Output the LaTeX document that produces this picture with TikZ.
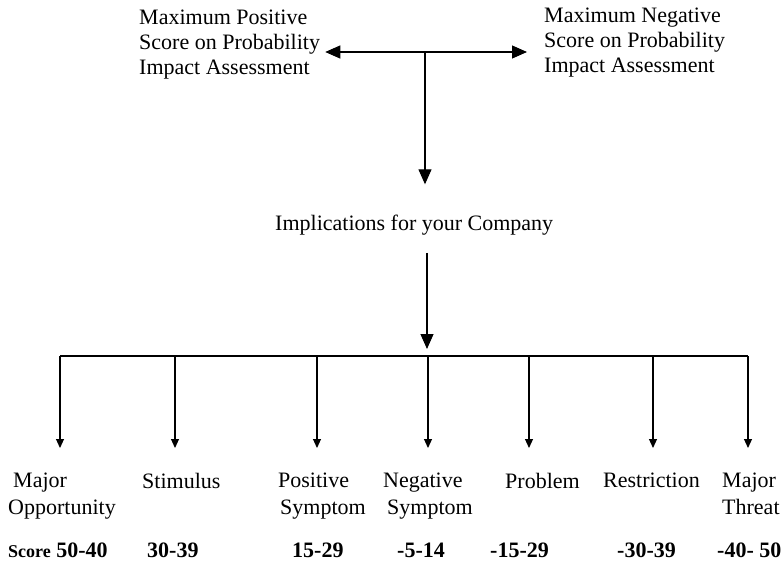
\documentclass[tikz,border=0pt]{standalone}
\usepackage{fontspec}
\setmainfont{Liberation Serif}
\usetikzlibrary{arrows.meta}
\begin{document}
\begin{tikzpicture}[x=1pt,y=-1pt,
  txt/.style={inner sep=0pt, font=\fontsize{22}{25}\selectfont, align=left},
  lbl/.style={inner sep=0pt, font=\fontsize{22}{26.5}\selectfont, align=left, anchor=north west},
  score/.style={inner sep=0pt, font=\bfseries\fontsize{22}{25}\selectfont, anchor=base west},
  conn/.style={line width=1.1pt, draw=black},
  bigtip/.style={-{Triangle[length=15pt,width=13pt]}},
  bigtips/.style={{Triangle[length=15pt,width=13pt]}-{Triangle[length=15pt,width=13pt]}},
  smalltip/.style={-{Triangle[length=9pt,width=8pt]}}]
\useasboundingbox (0,0) rectangle (784,562);

% top: the two extremes of the assessment
\node[txt, anchor=north west] (pos) at (139,10) {Maximum Positive\\Score on Probability\\Impact Assessment};
\node[txt, anchor=north west] (neg) at (544,8) {Maximum Negative\\Score on Probability\\Impact Assessment};
\node[txt, anchor=base west] (imp) at (275,230) {Implications for your Company};

\coordinate (fork) at (425,52);
\coordinate (hub) at (427,356);

\draw[conn,bigtips] ([xshift=5pt]pos.east |- fork) -- ([xshift=-17pt]neg.west |- fork);
\draw[conn,bigtip] (fork) -- ([yshift=30pt]imp.north -| fork);
\draw[conn,bigtip] ([yshift=-18pt]imp.south -| hub) -- ([yshift=7pt]hub);

% bottom: the seven categories
\node[lbl] (l1) at (8,473) {\hspace{5pt}Major\\Opportunity};
\node[lbl] (l2) at (142,473) {Stimulus};
\node[lbl] (l3) at (278,473) {Positive\\\hspace{2pt}Symptom};
\node[lbl] (l4) at (383,473) {Negative\\\hspace{4pt}Symptom};
\node[lbl] (l5) at (505,473) {Problem};
\node[lbl] (l6) at (603,473) {Restriction};
\node[lbl] (l7) at (722,473) {Major\\Threat};

% score ranges
\node[score] (s1) at (8,557) {{\fontsize{18}{20}\selectfont Score} 50-40};
\node[score] (s2) at (147,557) {30-39};
\node[score] (s3) at (292,557) {15-29};
\node[score] (s4) at (397,557) {-5-14};
\node[score] (s5) at (490,557) {-15-29};
\node[score] (s6) at (617,557) {-30-39};
\node[score] (s7) at (717,557) {-40- 50};

% distribution bar and drops
\coordinate (b1) at (60,356);
\coordinate (b2) at (175,356);
\coordinate (b3) at (317,356);
\coordinate (b4) at (428,356);
\coordinate (b5) at (529,356);
\coordinate (b6) at (653,356);
\coordinate (b7) at (748,356);
\draw[conn] (b1) -- (b7);
\foreach \i in {1,...,7}
  \draw[conn,smalltip] (b\i) -- ([yshift=25pt]l\i.north -| b\i);
\end{tikzpicture}
\end{document}
